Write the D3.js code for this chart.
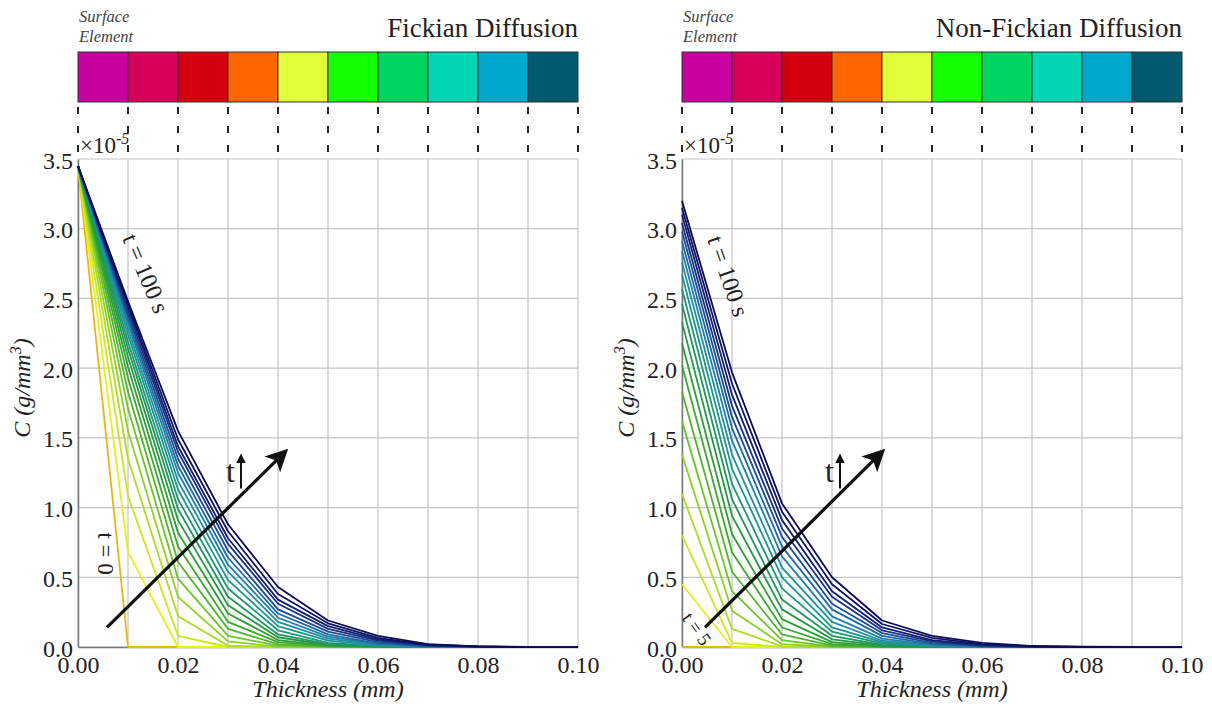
<!DOCTYPE html>
<html>
<head>
<meta charset="utf-8">
<script src="https://cdn.jsdelivr.net/npm/d3@7"></script>
<style>
  body { margin: 0; background: #fff; }
  text { font-family: "Liberation Serif", "Times New Roman", serif; fill: #222; }
</style>
</head>
<body>
<div id="chart"></div>
<script>
// nodes through the thickness
var thickness = [0, 0.01, 0.02, 0.03, 0.04, 0.05, 0.06, 0.07, 0.08, 0.09, 0.10];
var times = [0, 5, 10, 15, 20, 25, 30, 35, 40, 45, 50, 55, 60, 65, 70, 75, 80, 85, 90, 95, 100];
var yTicks = [0, 0.5, 1.0, 1.5, 2.0, 2.5, 3.0, 3.5];
var xTicks = [0, 0.02, 0.04, 0.06, 0.08, 0.10];
var elementColors = ["#c8009e", "#d6005a", "#d5000f", "#ff6600", "#e0ff3a", "#14ff00", "#00d65f", "#00d6b4", "#00a8cc", "#005a6e"];

// Fickian profiles, one row per time (x1e-5 g/mm^3)
var fickian = [
  [3.45, 0, 0, 0, 0, 0, 0, 0, 0, 0, 0],
  [3.45, 0.68, 0, 0, 0, 0, 0, 0, 0, 0, 0],
  [3.45, 1.08, 0.08, 0, 0, 0, 0, 0, 0, 0, 0],
  [3.45, 1.35, 0.22, 0.01, 0, 0, 0, 0, 0, 0, 0],
  [3.45, 1.55, 0.36, 0.04, 0.003, 0, 0, 0, 0, 0, 0],
  [3.45, 1.71, 0.49, 0.08, 0.01, 0.001, 0, 0, 0, 0, 0],
  [3.45, 1.83, 0.61, 0.13, 0.02, 0.003, 0, 0, 0, 0, 0],
  [3.45, 1.93, 0.72, 0.18, 0.035, 0.006, 0.001, 0, 0, 0, 0],
  [3.45, 2.01, 0.82, 0.24, 0.05, 0.01, 0.002, 0, 0, 0, 0],
  [3.45, 2.08, 0.91, 0.30, 0.07, 0.015, 0.003, 0, 0, 0, 0],
  [3.45, 2.14, 0.99, 0.36, 0.09, 0.02, 0.004, 0, 0, 0, 0],
  [3.45, 2.19, 1.06, 0.42, 0.12, 0.03, 0.006, 0.001, 0, 0, 0],
  [3.45, 2.24, 1.13, 0.48, 0.15, 0.045, 0.01, 0.002, 0, 0, 0],
  [3.45, 2.28, 1.19, 0.54, 0.18, 0.06, 0.015, 0.003, 0, 0, 0],
  [3.45, 2.32, 1.25, 0.59, 0.21, 0.075, 0.02, 0.004, 0, 0, 0],
  [3.45, 2.35, 1.30, 0.64, 0.24, 0.09, 0.025, 0.005, 0.001, 0, 0],
  [3.45, 2.38, 1.35, 0.69, 0.27, 0.11, 0.035, 0.008, 0.002, 0, 0],
  [3.45, 2.41, 1.40, 0.74, 0.31, 0.13, 0.045, 0.01, 0.002, 0, 0],
  [3.45, 2.44, 1.44, 0.78, 0.34, 0.15, 0.055, 0.013, 0.003, 0, 0],
  [3.45, 2.46, 1.49, 0.83, 0.38, 0.17, 0.065, 0.016, 0.004, 0, 0],
  [3.45, 2.48, 1.55, 0.88, 0.43, 0.19, 0.08, 0.02, 0.005, 0, 0]
];

// Non-Fickian profiles, surface value rises with time
var nonFickian = [
  [0, 0, 0, 0, 0, 0, 0, 0, 0, 0, 0],
  [0.45, 0, 0, 0, 0, 0, 0, 0, 0, 0, 0],
  [0.80, 0.03, 0, 0, 0, 0, 0, 0, 0, 0, 0],
  [1.10, 0.13, 0.005, 0, 0, 0, 0, 0, 0, 0, 0],
  [1.38, 0.26, 0.02, 0, 0, 0, 0, 0, 0, 0, 0],
  [1.62, 0.40, 0.05, 0.003, 0, 0, 0, 0, 0, 0, 0],
  [1.83, 0.54, 0.09, 0.01, 0, 0, 0, 0, 0, 0, 0],
  [2.02, 0.68, 0.14, 0.02, 0.002, 0, 0, 0, 0, 0, 0],
  [2.18, 0.81, 0.20, 0.035, 0.005, 0, 0, 0, 0, 0, 0],
  [2.33, 0.94, 0.27, 0.055, 0.01, 0, 0, 0, 0, 0, 0],
  [2.46, 1.06, 0.34, 0.08, 0.015, 0.002, 0, 0, 0, 0, 0],
  [2.57, 1.17, 0.42, 0.11, 0.025, 0.004, 0, 0, 0, 0, 0],
  [2.67, 1.28, 0.50, 0.14, 0.035, 0.007, 0, 0, 0, 0, 0],
  [2.76, 1.38, 0.57, 0.18, 0.045, 0.01, 0.002, 0, 0, 0, 0],
  [2.84, 1.48, 0.65, 0.22, 0.06, 0.015, 0.003, 0, 0, 0, 0],
  [2.91, 1.57, 0.72, 0.27, 0.08, 0.02, 0.005, 0, 0, 0, 0],
  [2.98, 1.65, 0.79, 0.31, 0.10, 0.03, 0.007, 0.001, 0, 0, 0],
  [3.04, 1.73, 0.85, 0.36, 0.12, 0.04, 0.01, 0.002, 0, 0, 0],
  [3.10, 1.81, 0.91, 0.40, 0.14, 0.05, 0.015, 0.003, 0, 0, 0],
  [3.15, 1.89, 0.97, 0.45, 0.165, 0.065, 0.02, 0.005, 0, 0, 0],
  [3.20, 1.97, 1.03, 0.50, 0.19, 0.08, 0.03, 0.007, 0.002, 0, 0]
];

var svgWidth = 1212;
var svgHeight = 704;

var svg = d3.select("#chart")
  .append("svg")
  .attr("width", svgWidth)
  .attr("height", svgHeight);

// arrow heads
var defs = svg.append("defs");
defs.append("marker")
  .attr("id", "bigHead")
  .attr("viewBox", "0 0 10 10")
  .attr("refX", 8).attr("refY", 5)
  .attr("markerWidth", 7).attr("markerHeight", 7)
  .attr("markerUnits", "strokeWidth")
  .attr("orient", "auto")
  .append("path")
  .attr("d", "M0,0 L10,5 L0,10 L2.5,5 Z")
  .attr("fill", "#111");
defs.append("marker")
  .attr("id", "smallHead")
  .attr("viewBox", "0 0 10 10")
  .attr("refX", 8).attr("refY", 5)
  .attr("markerWidth", 5).attr("markerHeight", 6)
  .attr("markerUnits", "strokeWidth")
  .attr("orient", "auto")
  .append("path")
  .attr("d", "M0,0 L10,5 L0,10 Z")
  .attr("fill", "#111");

// colour for each time step, t = 0 is golden
var timeColor = d3.scaleSequential()
  .domain([5, 100])
  .interpolator(d3.interpolateRgbBasis(["#e6ef1c", "#a6dc26", "#4db82c", "#259a2e", "#1c9466", "#1d9cae", "#2164a8", "#141c72", "#0b0b58"]));
function lineColor(t) {
  return t === 0 ? "#eeb412" : timeColor(t);
}

var chartTop = 159;
var chartBottom = 647;
var chartWidth = 500;

function drawPanel(left, title, data, labels) {
  var g = svg.append("g");

  var xScale = d3.scaleLinear().domain([0, 0.10]).range([left, left + chartWidth]);
  var yScale = d3.scaleLinear().domain([0, 3.5]).range([chartBottom, chartTop]);

  // title and surface element legend
  g.append("text")
    .attr("x", left + chartWidth)
    .attr("y", 37)
    .attr("text-anchor", "end")
    .style("font-size", "27px")
    .text(title);
  g.append("text")
    .attr("x", left + 1).attr("y", 22)
    .style("font-size", "16.5px").style("font-style", "italic").style("fill", "#444")
    .text("Surface");
  g.append("text")
    .attr("x", left + 1).attr("y", 42)
    .style("font-size", "16.5px").style("font-style", "italic").style("fill", "#444")
    .text("Element");

  // colour strip of the elements, one cell per 0.01 mm
  var cellScale = d3.scaleBand().domain(d3.range(elementColors.length)).range([left, left + chartWidth]).padding(0);
  g.selectAll(".cell")
    .data(elementColors)
    .enter()
    .append("rect")
    .attr("x", (d, i) => cellScale(i))
    .attr("y", 52)
    .attr("width", cellScale.bandwidth())
    .attr("height", 50)
    .attr("fill", d => d)
    .attr("stroke", "#333")
    .attr("stroke-width", 1);

  // dashed lines from the strip down to the plot
  g.selectAll(".dash")
    .data(thickness)
    .enter()
    .append("line")
    .attr("x1", d => xScale(d)).attr("x2", d => xScale(d))
    .attr("y1", 107).attr("y2", 156)
    .attr("stroke", "#111")
    .attr("stroke-width", 1.8)
    .attr("stroke-dasharray", "7,12");

  // grid
  g.selectAll(".vgrid")
    .data(thickness)
    .enter()
    .append("line")
    .attr("x1", d => xScale(d)).attr("x2", d => xScale(d))
    .attr("y1", chartTop).attr("y2", chartBottom)
    .attr("stroke", "#c4c4c4").attr("stroke-width", 1.2);
  g.selectAll(".hgrid")
    .data(yTicks)
    .enter()
    .append("line")
    .attr("x1", left).attr("x2", left + chartWidth)
    .attr("y1", d => yScale(d)).attr("y2", d => yScale(d))
    .attr("stroke", "#c4c4c4").attr("stroke-width", 1.2);

  // axes
  var xAxis = d3.axisBottom(xScale).tickValues(xTicks).tickSize(0).tickPadding(6).tickFormat(d3.format(".2f"));
  var yAxis = d3.axisLeft(yScale).tickValues(yTicks).tickSize(0).tickPadding(5).tickFormat(d3.format(".1f"));
  var xg = g.append("g").attr("transform", `translate(0,${chartBottom})`).call(xAxis);
  var yg = g.append("g").attr("transform", `translate(${left},0)`).call(yAxis);
  [xg, yg].forEach(function (a) {
    a.select(".domain").attr("stroke", "#777").attr("stroke-width", 1.5);
    a.selectAll("text")
      .style("font-family", "'Liberation Serif', serif")
      .style("font-size", "24px")
      .attr("fill", "#222");
  });
  xg.selectAll("text").attr("dy", "0.85em");
  yg.selectAll("text").attr("dy", "0.38em");

  // exponent
  var expo = g.append("text").attr("x", left + 2).attr("y", 153).style("font-size", "23px");
  expo.append("tspan").text("\u00d710");
  expo.append("tspan").attr("dy", -9).style("font-size", "16px").style("font-style", "italic").text("-5");

  // axis titles
  g.append("text")
    .attr("x", left + chartWidth / 2)
    .attr("y", 697)
    .attr("text-anchor", "middle")
    .style("font-size", "24px").style("font-style", "italic")
    .text("Thickness (mm)");
  var yl = g.append("text")
    .attr("transform", `translate(${left - 48},388) rotate(-90)`)
    .attr("text-anchor", "middle")
    .style("font-size", "24px").style("font-style", "italic");
  yl.append("tspan").text("C (g/mm");
  yl.append("tspan").attr("dy", -9).style("font-size", "16px").text("3");
  yl.append("tspan").attr("dy", 9).text(")");

  // concentration profiles
  var line = d3.line()
    .x((d, i) => xScale(thickness[i]))
    .y(d => yScale(d));
  g.selectAll(".profile")
    .data(data)
    .enter()
    .append("path")
    .attr("d", d => line(d))
    .attr("fill", "none")
    .attr("stroke", (d, i) => lineColor(times[i]))
    .attr("stroke-width", 1.8)
    .attr("stroke-linejoin", "round");

  // time direction arrow
  g.append("line")
    .attr("x1", xScale(labels.arrow[0])).attr("y1", yScale(labels.arrow[1]))
    .attr("x2", xScale(labels.arrow[2])).attr("y2", yScale(labels.arrow[3]))
    .attr("stroke", "#111").attr("stroke-width", 3.2)
    .attr("marker-end", "url(#bigHead)");
  g.append("text")
    .attr("x", xScale(labels.tPos[0])).attr("y", yScale(labels.tPos[1]))
    .style("font-size", "32px")
    .text("t");
  g.append("line")
    .attr("x1", xScale(labels.tPos[0]) + 15).attr("y1", yScale(labels.tPos[1]) + 6)
    .attr("x2", xScale(labels.tPos[0]) + 15).attr("y2", yScale(labels.tPos[1]) - 27)
    .attr("stroke", "#111").attr("stroke-width", 2)
    .attr("marker-end", "url(#smallHead)");

  // curve labels
  labels.text.forEach(function (l) {
    g.append("text")
      .attr("transform", `translate(${xScale(l.x)},${yScale(l.y)}) rotate(${l.rot})`)
      .attr("text-anchor", "middle")
      .attr("dy", "0.35em")
      .style("font-size", l.size + "px")
      .text(l.txt);
  });
}

drawPanel(78, "Fickian Diffusion", fickian, {
  arrow: [0.0058, 0.14, 0.0414, 1.40],
  tPos: [0.0296, 1.18],
  text: [
    { txt: "t = 100 s", x: 0.0136, y: 2.68, rot: 67, size: 24 },
    { txt: "t = 0", x: 0.0056, y: 0.67, rot: 90, size: 23 }
  ]
});

drawPanel(682, "Non-Fickian Diffusion", nonFickian, {
  arrow: [0.0046, 0.14, 0.0400, 1.40],
  tPos: [0.0286, 1.18],
  text: [
    { txt: "t = 100 s", x: 0.0093, y: 2.66, rot: 71, size: 24 },
    { txt: "t = 5", x: 0.003, y: 0.13, rot: 55, size: 19 }
  ]
});
</script>
</body>
</html>
